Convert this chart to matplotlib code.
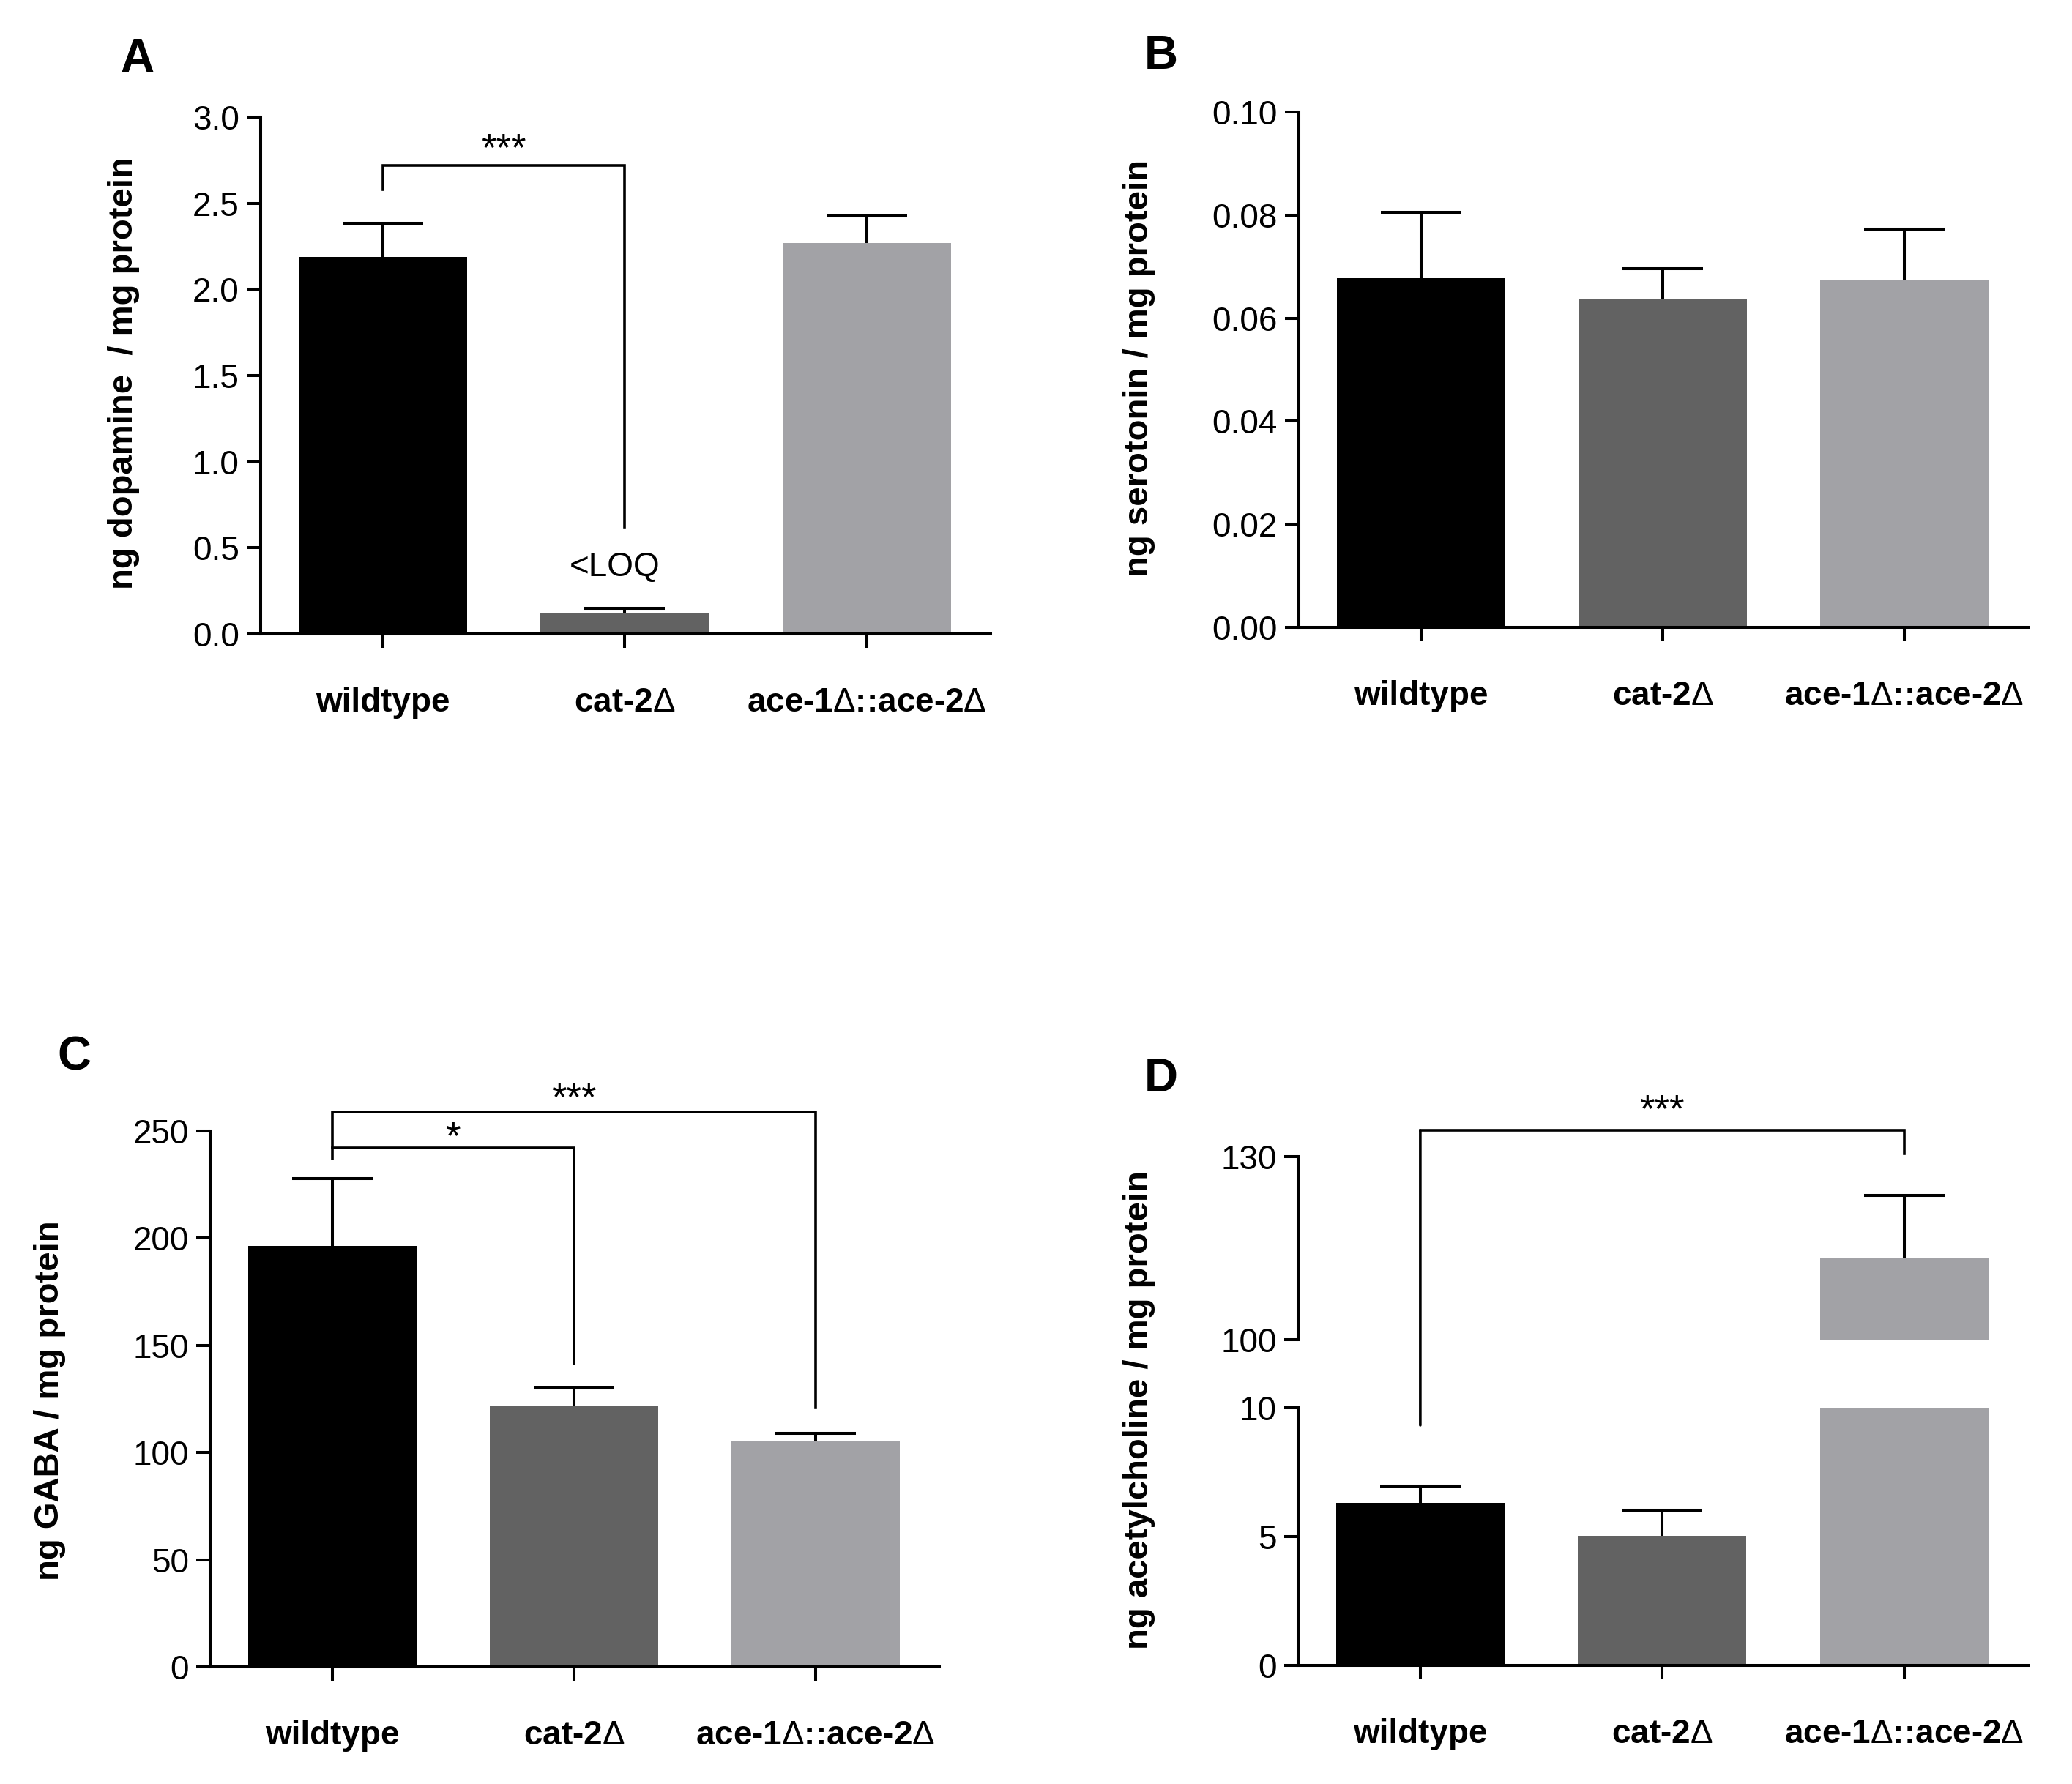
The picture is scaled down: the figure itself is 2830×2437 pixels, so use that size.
import numpy as np
import matplotlib.pyplot as plt
from matplotlib.patches import ConnectionPatch

plt.rcParams['font.family'] = ['Liberation Sans', 'DejaVu Sans']
plt.rcParams['mathtext.fontset'] = 'custom'
plt.rcParams['mathtext.rm'] = 'Liberation Sans'

# groups + bar colours (same order in every panel)
groups = ['wildtype', r'cat-2$\mathrm{\Delta}$', r'ace-1$\mathrm{\Delta}$::ace-2$\mathrm{\Delta}$']
bar_colors = ['#000000', '#626262', '#a2a2a6']

# A - dopamine
dopamine_mean = [2.19, 0.12, 2.27]
dopamine_sem = [0.195, 0.03, 0.155]
# B - serotonin
serotonin_mean = [0.0677, 0.0636, 0.0674]
serotonin_sem = [0.0128, 0.0060, 0.0099]
# C - GABA
gaba_mean = [196.3, 122.0, 105.2]
gaba_sem = [31.4, 8.0, 3.8]
# D - acetylcholine (broken axis)
ach_mean = [6.31, 5.04, 113.4]
ach_sem = [0.65, 0.99, 10.3]

W, H = 2830, 2437
fig = plt.figure(figsize=(W / 100, H / 100), dpi=100)

LW = 2.9
TICK = 14


def px_box(l, r, t, b):
    return [l / W, 1 - b / H, (r - l) / W, (b - t) / H]


def style(ax, yticks, fmt, show_x=True):
    ax.spines['top'].set_visible(False)
    ax.spines['right'].set_visible(False)
    ax.spines['left'].set_linewidth(LW)
    ax.spines['bottom'].set_linewidth(LW)
    ax.set_yticks(yticks)
    ax.set_yticklabels([fmt % v for v in yticks])
    ax.tick_params(axis='y', length=TICK, width=LW, pad=7, labelsize=33)
    ax.set_xlim(-0.505, 2.512)
    if show_x:
        ax.set_xticks(np.arange(len(groups)))
        ax.set_xticklabels(groups, fontsize=33, fontweight='bold')
        ax.tick_params(axis='x', length=TICK, width=LW, pad=38)
    else:
        ax.spines['bottom'].set_visible(False)
        ax.set_xticks([])


def bars(ax, means, sems):
    x = np.arange(len(means))
    # symmetric error bar behind the bar -> only upper half visible
    ax.errorbar(x, means, yerr=sems, fmt='none', ecolor='black',
                elinewidth=LW, capsize=39.6, capthick=LW, zorder=1)
    ax.bar(x, means, width=0.696, color=bar_colors, zorder=2)


def bracket(ax, x0, x1, y, y0, y1):
    ax.plot([x0, x0, x1, x1], [y0, y, y, y1], color='black', lw=2.6,
            clip_on=False, solid_joinstyle='miter', zorder=4)


def stars(ax, x, y, s):
    ax.text(x, y, s, ha='center', va='baseline', fontsize=38, clip_on=False)


# ---- A
axA = fig.add_axes(px_box(356, 1353, 160, 866))
bars(axA, dopamine_mean, dopamine_sem)
axA.set_ylim(0, 3.0)
style(axA, [0, 0.5, 1.0, 1.5, 2.0, 2.5, 3.0], '%.1f')
bracket(axA, 0, 1, 2.72, 2.58, 0.62)
stars(axA, 0.5, 2.75, '***')
axA.text(0.96, 0.385, '<LOQ', ha='center', va='center', fontsize=33)

# ---- B
axB = fig.add_axes(px_box(1774, 2770, 153, 857))
bars(axB, serotonin_mean, serotonin_sem)
axB.set_ylim(0, 0.10)
style(axB, [0, 0.02, 0.04, 0.06, 0.08, 0.10], '%.2f')

# ---- C
axC = fig.add_axes(px_box(287, 1283, 1545, 2277))
bars(axC, gaba_mean, gaba_sem)
axC.set_ylim(0, 250)
style(axC, [0, 50, 100, 150, 200, 250], '%d')
bracket(axC, 0, 2, 259, 237, 121)
bracket(axC, 0, 1, 242, 242, 141.5)
stars(axC, 1.0, 259.8, '***')
stars(axC, 0.5, 241.9, '*')

# ---- D (two segments)
axDl = fig.add_axes(px_box(1773, 2770, 1923, 2275))
bars(axDl, ach_mean, ach_sem)
axDl.set_ylim(0, 10)
style(axDl, [0, 5, 10], '%d')

axDu = fig.add_axes(px_box(1773, 2770, 1580, 1830))
bars(axDu, ach_mean, ach_sem)
axDu.set_ylim(100, 130)
style(axDu, [100, 130], '%d', show_x=False)

axDu.plot([0, 2, 2], [134.3, 134.3, 130.5], color='black', lw=2.6,
          clip_on=False, solid_joinstyle='miter', zorder=4)
leg = ConnectionPatch(xyA=(0, 134.3), coordsA=axDu.transData,
                      xyB=(0, 9.32), coordsB=axDl.transData,
                      color='black', lw=2.6)
fig.add_artist(leg)
stars(axDu, 1.0, 135.8, '***')

# y labels
ylab = [(169, 510, 'ng dopamine  / mg protein'),
        (1556, 503, 'ng serotonin / mg protein'),
        (68, 1913, 'ng GABA / mg protein'),
        (1556, 1926, 'ng acetylcholine / mg protein')]
for x, y, t in ylab:
    fig.text(x / W, 1 - y / H, t, rotation=90, ha='center', va='center',
             fontsize=34, fontweight='bold')

# panel letters
for x, y, t in [(187, 81, 'A'), (1586, 77, 'B'), (101, 1444, 'C'), (1586, 1474, 'D')]:
    fig.text(x / W, 1 - y / H, t, ha='center', va='center', fontsize=46,
             fontweight='bold')

fig.savefig('out.png', dpi=100)
